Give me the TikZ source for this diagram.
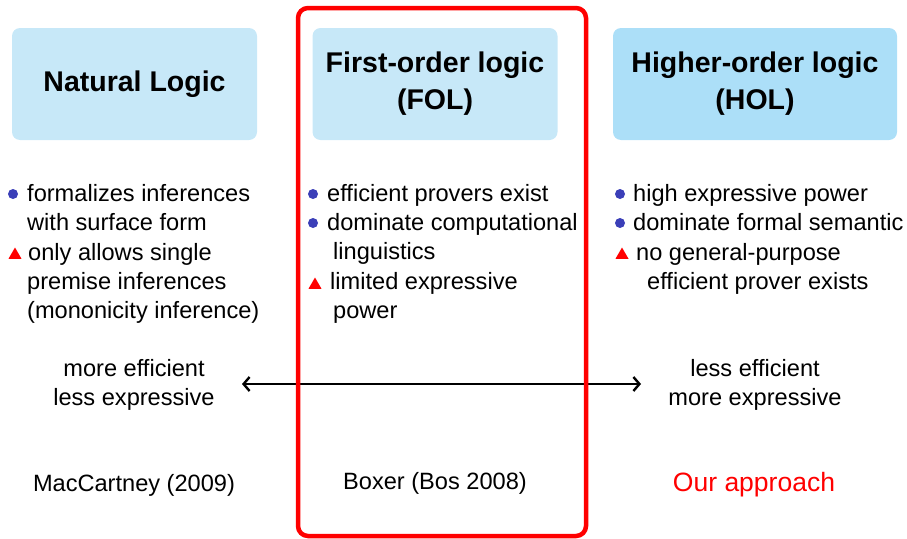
\documentclass[tikz,border=0pt]{standalone}
\usepackage{fontspec}
\setmainfont{Liberation Sans}
\usetikzlibrary{shapes.geometric,arrows.meta}
\definecolor{boxblue}{HTML}{C7E8F8}
\definecolor{boxbluedark}{HTML}{ACDFF8}
\definecolor{dotblue}{HTML}{3B3FB8}
\begin{document}
\begin{tikzpicture}[x=1pt,y=-1pt]
\tikzstyle{every node}+=[inner sep=0pt, font=\fontsize{23.6}{29}\selectfont]
\tikzstyle{logicbox}=[fill=boxblue, rounded corners=8pt, minimum width=245pt, minimum height=112pt, align=center, font=\fontsize{28.5}{37}\selectfont\bfseries]
\tikzstyle{dot}=[circle, fill=dotblue, minimum size=10pt]
\tikzstyle{warn}=[regular polygon, regular polygon sides=3, fill=red, minimum size=15pt]
\tikzstyle{line}=[anchor=base west]
\tikzstyle{label}=[align=center]
\useasboundingbox (0,0) rectangle (907,538);
\node [logicbox] (nat) at (134.5,84) {Natural Logic};
\node [logicbox] (fol) at (435,84) {First-order logic\\(FOL)};
\node [logicbox, fill=boxbluedark, minimum width=284pt] (hol) at (755,84) {Higher-order logic\\(HOL)};
\node [dot] (n1) at (13,194) {};
\node [line] (n1a) at (27,201) {formalizes inferences};
\node [line] (n1b) at (27,230) {with surface form};
\node [warn] (n2) at (15,255) {};
\node [line] (n2a) at (28,260) {only allows single};
\node [line] (n2b) at (27,289) {premise inferences};
\node [line] (n2c) at (27,318) {(mononicity inference)};
\node [dot] (f1) at (313,194) {};
\node [line] (f1a) at (327,201) {efficient provers exist};
\node [dot] (f2) at (313,223) {};
\node [line] (f2a) at (327,230) {dominate computational};
\node [line] (f2b) at (333,259) {linguistics};
\node [warn] (f3) at (315,285) {};
\node [line] (f3a) at (330,289) {limited expressive};
\node [line] (f3b) at (333,318) {power};
\node [dot] (h1) at (620,194) {};
\node [line] (h1a) at (633,201) {high expressive power};
\node [dot] (h2) at (620,223) {};
\node [line] (h2a) at (633,230) {dominate formal semantic};
\node [warn] (h3) at (622,255) {};
\node [line] (h3a) at (636,260) {no general-purpose};
\node [line] (h3b) at (647,289) {efficient prover exists};
\node [label] (eff) at (134,385) {more efficient\\less expressive};
\node [label] (exp) at (755,385) {less efficient\\more expressive};
\coordinate (l) at (242,384);
\coordinate (r) at (641,384);
\draw [line width=2.4pt, {Straight Barb[length=6pt,width=14pt]}-{Straight Barb[length=6pt,width=14pt]}] (l) -- (r);
\node [label] (mac) at (134,485) {MacCartney (2009)};
\node [label] (box) at (435,483) {Boxer (Bos 2008)};
\node [label, text=red, font=\fontsize{26.5}{29}\selectfont] (our) at (754,485) {Our approach};
\draw [red, line width=4.5pt, rounded corners=10pt] (298,536) -- (298,8) -- (586,8) -- (586,536) -- cycle;
\end{tikzpicture}
\end{document}
